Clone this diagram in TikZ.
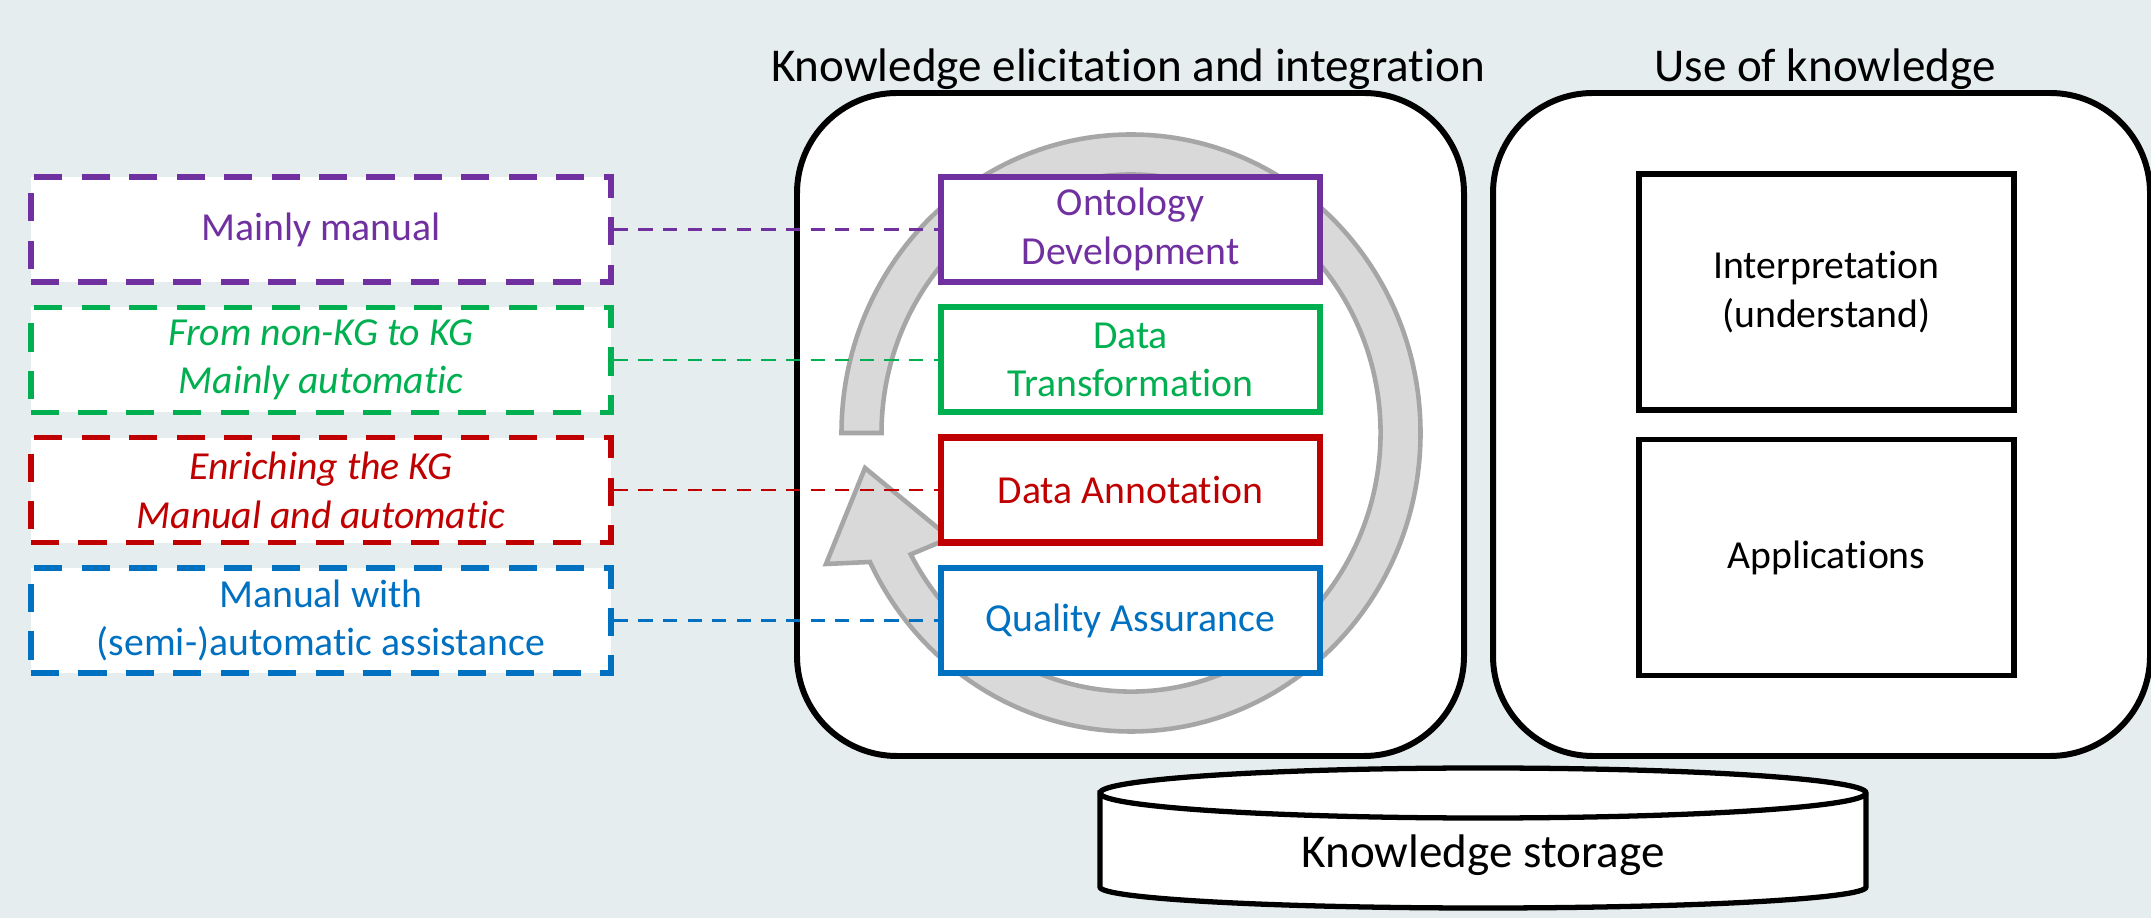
\documentclass[tikz,border=0pt]{standalone}
\usepackage{fontspec}
\setmainfont{Carlito}[Ligatures=NoCommon]
\usepackage{tikz}
\usetikzlibrary{positioning,arrows.meta,calc}

\definecolor{kgpurple}{HTML}{7030A0}
\definecolor{kggreen}{HTML}{00B050}
\definecolor{kgred}{HTML}{C00000}
\definecolor{kgblue}{HTML}{0070C0}
\definecolor{bgpage}{HTML}{E6EDEF}
\definecolor{ringfill}{HTML}{D9D9D9}
\definecolor{ringline}{HTML}{A6A6A6}

\begin{document}
\begin{tikzpicture}[
  hub/.style={draw, line width=1.7pt, fill=white, rounded corners=1cm},
  task/.style={draw, line width=1.8pt, fill=white, minimum width=3.79cm,
               minimum height=1.05cm, font=\fontsize{11.3}{13.8}\selectfont,
               align=center, inner sep=1pt},
  use/.style={draw, line width=1.6pt, fill=white, minimum width=3.75cm,
              minimum height=2.36cm, font=\fontsize{11.3}{13.8}\selectfont,
              align=center},
  modebox/.style={draw, line width=1.6pt, dash pattern=on 8pt off 5.5pt,
                  fill=white, minimum width=5.8cm, minimum height=1.05cm,
                  font=\fontsize{11.3}{13.8}\selectfont, align=center, inner sep=1pt},
  link/.style={line width=0.65pt, dash pattern=on 4pt off 3pt},
  ttl/.style={font=\fontsize{13.4}{16}\selectfont, inner sep=1pt},
]

% background
\fill[bgpage] (0,0) rectangle (21.51,9.18);
\useasboundingbox (0,0) rectangle (21.51,9.18);

% ====== the two panels ======
\node[ttl] at (11.28, 8.49) {Knowledge elicitation and integration};
\node[ttl] at (18.25, 8.49) {Use of knowledge};
\node[hub, minimum width=6.67cm, minimum height=6.63cm] (elic) at (11.305, 4.935) {};
\node[hub, minimum width=6.57cm, minimum height=6.63cm] (usek) at (18.215, 4.935) {};

% cycle arrow behind the tasks
\draw[line width=1.3pt, draw=ringline, fill=ringfill]
  (8.415,4.85) arc[start angle=180, end angle=-154.4, x radius=2.895, y radius=2.985]
  -- (8.26,3.54) -- (8.65,4.50) -- (9.50,3.80) -- (9.107,3.636)
  arc[start angle=-152, end angle=180, x radius=2.495, y radius=2.585] -- cycle;

% ====== tasks ======
\node[task, draw=kgpurple, text=kgpurple] (onto) at (11.305, 6.885) {Ontology\\Development};
\node[task, draw=kggreen, text=kggreen, below=0.19cm of onto] (trans) {Data\\Transformation};
\node[task, draw=kgred, text=kgred, below=0.19cm of trans] (annot) {Data Annotation};
\node[task, draw=kgblue, text=kgblue, below=0.19cm of annot] (qual) {Quality Assurance};

% ====== how each task is done ======
\node[modebox, draw=kgpurple, text=kgpurple, left=3.24cm of onto] (manual) {Mainly manual};
\node[modebox, draw=kggreen, text=kggreen, left=3.24cm of trans] (auto)
  {\itshape From non-KG to KG\\\itshape Mainly automatic};
\node[modebox, draw=kgred, text=kgred, left=3.24cm of annot] (enrich)
  {\itshape Enriching the KG\\\itshape Manual and automatic};
\node[modebox, draw=kgblue, text=kgblue, left=3.24cm of qual] (assist)
  {Manual with\\(semi-)automatic assistance};

\draw[link, kgpurple] (manual) -- (onto);
\draw[link, kggreen] (auto) -- (trans);
\draw[link, kgred] (enrich) -- (annot);
\draw[link, kgblue] (assist) -- (qual);

% ====== use of knowledge ======
\node[use] (interp) at (18.265, 6.26) {Interpretation\\(understand)};
\node[use, below=0.24cm of interp] (apps) {Applications};

% ====== storage cylinder ======
\draw[line width=1.5pt, fill=white]
  (11.00,1.25) -- (11.00,0.31) arc[start angle=180, end angle=360, x radius=3.83, y radius=0.21]
  -- (18.66,1.25) arc[start angle=0, end angle=180, x radius=3.83, y radius=0.25] -- cycle;
\draw[line width=1.5pt] (11.00,1.25) arc[start angle=180, end angle=360, x radius=3.83, y radius=0.25];
\node[ttl] (store) at (14.83, 0.63) {Knowledge storage};

\end{tikzpicture}
\end{document}
